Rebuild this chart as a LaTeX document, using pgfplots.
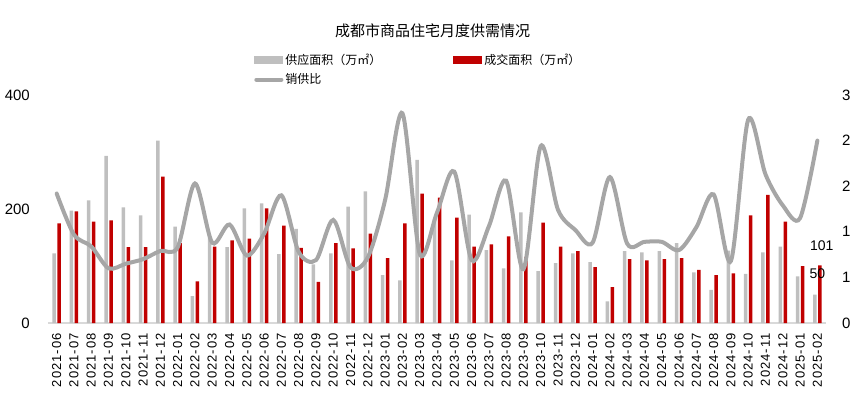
\documentclass[border=0pt]{standalone}
\usepackage{pgfplots}
\usepackage{pgfplotstable}
\pgfplotsset{compat=1.18}
\usepackage{fontspec}
\setmainfont{Liberation Sans}
\newfontfamily\cjk{Noto Sans CJK SC}
\definecolor{cgray}{HTML}{BFBFBF}
\definecolor{cred}{HTML}{C00000}
\definecolor{cline}{HTML}{A6A6A6}
\definecolor{caxis}{HTML}{D9D9D9}
\pgfplotstableread{
k s d r
0 122 175 1.42
1 197 196 0.97
2 215 178 0.84
3 293 180 0.60
4 203 133 0.65
5 189 133 0.70
6 320 257 0.79
7 169 140 0.83
8 47 73 1.53
9 152 134 0.88
10 133 145 1.08
11 201 148 0.74
12 210 201 0.98
13 121 171 1.40
14 165 132 0.78
15 103 72 0.69
16 122 140 1.13
17 204 131 0.61
18 231 157 0.72
19 84 114 1.35
20 75 175 2.30
21 286 227 0.76
22 182 220 1.21
23 110 185 1.66
24 190 134 0.69
25 128 138 1.06
26 96 152 1.56
27 194 115 0.59
28 91 176 1.94
29 105 134 1.24
30 122 126 1.02
31 107 98 0.88
32 38 63 1.60
33 126 112 0.87
34 124 110 0.89
35 126 112 0.89
36 140 114 0.80
37 89 93 1.05
38 58 84 1.41
39 127 87 0.68
40 86 189 2.23
41 124 225 1.63
42 134 178 1.29
43 82 100 1.15
44 50 101 2.00
}\data
\begin{document}
\begin{tikzpicture}
\begin{axis}[
  name=main,
  scale only axis,
  width=778pt, height=228pt,
  xmin=-0.5, xmax=44.5, ymin=0, ymax=400,
  axis x line*=bottom, axis y line*=left,
  x axis line style={draw=caxis, line width=2pt, -},
  y axis line style={draw=none},
  major tick length=0pt,
  ytick={0,200,400},
  yticklabel style={font=\fontsize{15}{15}\selectfont, anchor=east, inner sep=0pt},
  yticklabel shift=18pt,
  /pgf/number format/assume math mode=true,
  xtick={0,...,44},
  xticklabels={2021-06,2021-07,2021-08,2021-09,2021-10,2021-11,2021-12,2022-01,2022-02,2022-03,2022-04,2022-05,2022-06,2022-07,2022-08,2022-09,2022-10,2022-11,2022-12,2023-01,2023-02,2023-03,2023-04,2023-05,2023-06,2023-07,2023-08,2023-09,2023-10,2023-11,2023-12,2024-01,2024-02,2024-03,2024-04,2024-05,2024-06,2024-07,2024-08,2024-09,2024-10,2024-11,2024-12,2025-01,2025-02},
  xticklabel style={font=\fontsize{13}{13}\selectfont\addfontfeature{LetterSpace=8}, rotate=90, anchor=east, inner sep=0pt},
  xticklabel shift=10pt,
  legend columns=2,
  legend cell align=left,
  legend style={draw=none, fill=none, at={(0.265,1.19)}, anchor=north west,
    font=\cjk\fontsize{12}{14}\selectfont, inner sep=0pt,
    /tikz/every even column/.append style={column sep=70pt},
    row sep=4pt},
  clip=false,
]
\addplot[ybar, bar width=3.5pt, bar shift=-2.5pt, fill=cgray, draw=none,
  legend image code/.code={\fill[cgray] (0pt,-4pt) rectangle (29pt,4pt);}]
  table[x=k,y=s] {\data};
\addlegendentry{供应面积（万㎡）}
\addplot[ybar, bar width=3.5pt, bar shift=2.5pt, fill=cred, draw=none,
  legend image code/.code={\fill[cred] (0pt,-4pt) rectangle (29pt,4pt);}]
  table[x=k,y=d] {\data};
\addlegendentry{成交面积（万㎡）}
\addlegendimage{cline, line width=4pt, line cap=round,
  legend image code/.code={\draw[cline, line width=4pt, line cap=round] (2pt,0pt) -- (27pt,0pt);}}
\addlegendentry{销供比}
\node[font=\fontsize{14}{14}\selectfont] at (axis cs:44.25,135) {101};
\node[font=\fontsize{14}{14}\selectfont] at (axis cs:44.0,86) {50};
\path (rel axis cs:0,0) ++(-48pt,-93pt) rectangle ++(865pt,416pt);
\node[font=\cjk\fontsize{15}{18}\selectfont] at ([shift={(384.5pt,292pt)}]rel axis cs:0,0) {成都市商品住宅月度供需情况};
\end{axis}
\begin{axis}[
  at={(main.south west)}, anchor=south west, scale only axis,
  width=778pt, height=228pt,
  xmin=-0.5, xmax=44.5, ymin=0, ymax=2.5,
  axis y line*=right, axis x line=none,
  y axis line style={draw=none},
  major tick length=0pt,
  ytick={0,0.5,1,1.5,2,2.5},
  yticklabels={0,1,1,2,2,3},
  yticklabel style={font=\fontsize{15}{15}\selectfont, anchor=west, inner sep=0pt},
  yticklabel shift=16pt,
]
\addplot[cline, line width=4pt, smooth, no markers, line cap=round] table[x=k,y=r] {\data};
\end{axis}
\end{tikzpicture}
\end{document}
